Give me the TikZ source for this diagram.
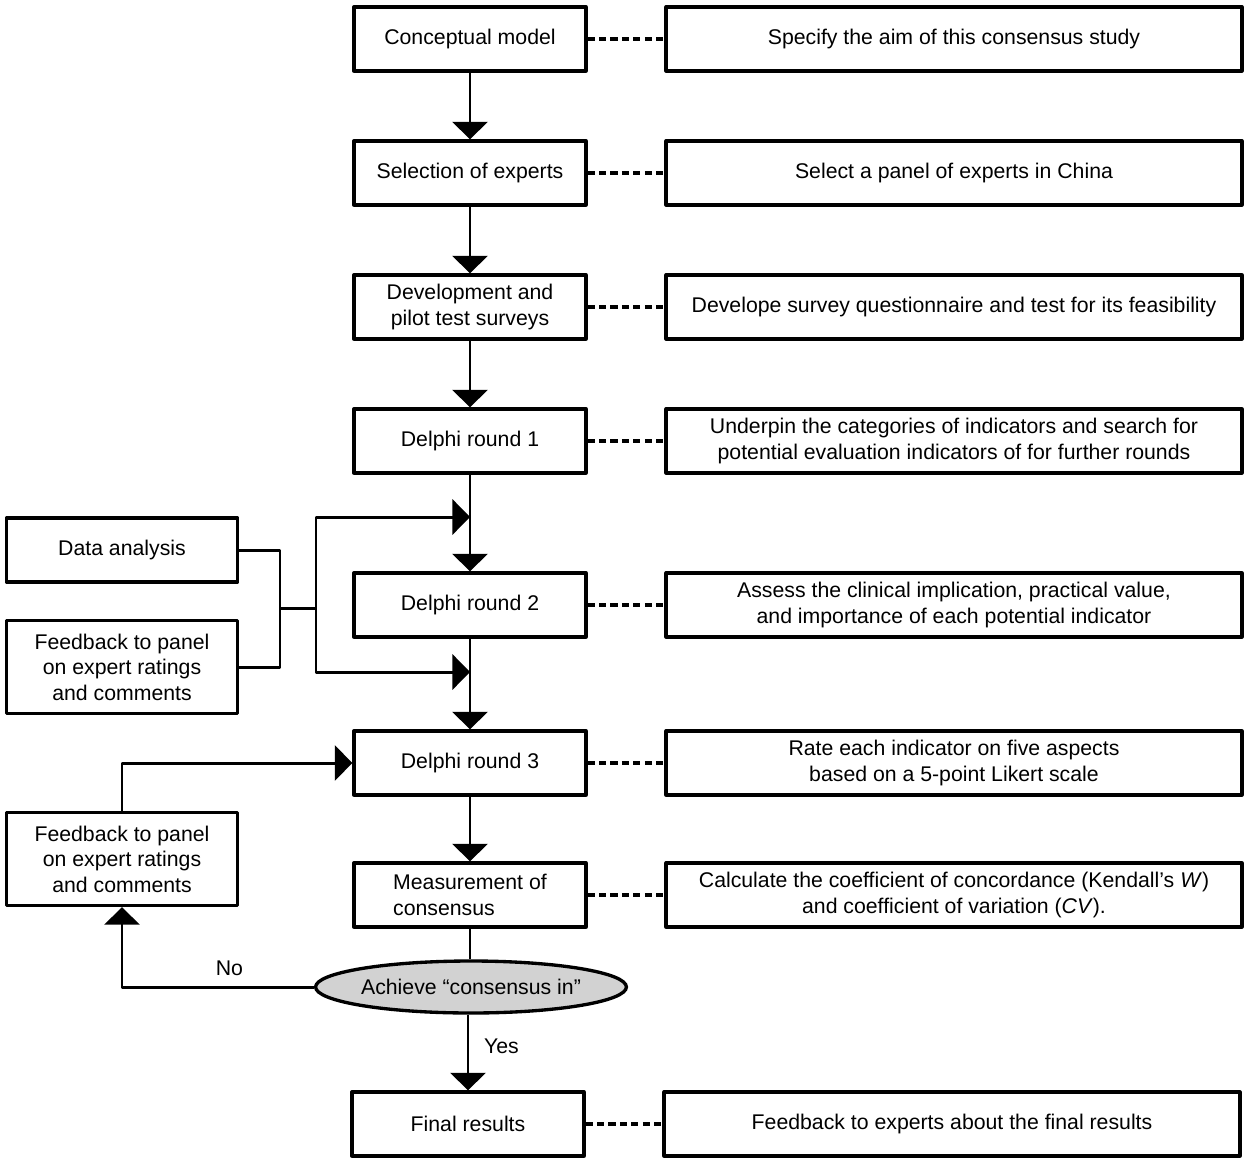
\documentclass[tikz,border=0pt]{standalone}
\usepackage{fontspec}
\setmainfont{Liberation Sans}
\usetikzlibrary{arrows.meta,shapes.geometric}

\begin{document}
\begin{tikzpicture}[
        x = 0.02cm, y = -0.02cm,
        line join=round,
        font = \fontsize{12.1}{14.5}\selectfont,
        >={Triangle[width=20pt,length=10pt]},
        stepbox/.style = {draw, line width=1.9pt, minimum width=4.64cm, minimum height=1.28cm, align=center, inner sep=2pt},
        notebox/.style = {stepbox, minimum width=11.52cm},
        sidebox/.style = {stepbox, minimum width=4.62cm},
        flow/.style = {line width=1.7pt},
        link/.style = {line width=1.8pt, dash pattern=on 4pt off 2.5pt}
    ]

    \useasboundingbox (0,0) rectangle (1248,1163);

    % main steps
    \node[stepbox] (cm) at (470,39) {Conceptual model};
    \node[stepbox] (se) at (470,173) {Selection of experts};
    \node[stepbox] (dp) at (470,307) {Development and\\pilot test surveys};
    \node[stepbox] (dr1) at (470,441) {Delphi round 1};
    \node[stepbox] (dr2) at (470,605) {Delphi round 2};
    \node[stepbox] (dr3) at (470,763) {Delphi round 3};
    \node[stepbox, align=left] (mc) at (470,895) {Measurement of\\consensus};
    \node[ellipse, draw, line width=1.9pt, fill=gray!35, minimum width=6.16cm, minimum height=1.04cm, inner sep=0pt] (ach) at (471,987) {Achieve “consensus in”};
    \node[stepbox] (fr) at (468,1124) {Final results};

    % notes
    \node[notebox] (n1) at (954,39) {Specify the aim of this consensus study};
    \node[notebox] (n2) at (954,173) {Select a panel of experts in China};
    \node[notebox] (n3) at (954,307) {Develope survey questionnaire and test for its feasibility};
    \node[notebox] (n4) at (954,441) {Underpin the categories of indicators and search for\\potential evaluation indicators of for further rounds};
    \node[notebox] (n5) at (954,605) {Assess the clinical implication, practical value,\\and importance of each potential indicator};
    \node[notebox] (n6) at (954,763) {Rate each indicator on five aspects\\based on a 5-point Likert scale};
    \node[notebox] (n7) at (954,895) {Calculate the coefficient of concordance (Kendall’s \textit{W})\\and coefficient of variation (\textit{CV}).};
    \node[notebox] (n8) at (952,1124) {Feedback to experts about the final results};

    % side boxes
    \node[sidebox] (da) at (122,550) {Data analysis};
    \node[sidebox, minimum height=1.86cm] (fb1) at (122,667) {Feedback to panel\\on expert ratings\\and comments};
    \node[sidebox, minimum height=1.86cm] (fb2) at (122,859) {Feedback to panel\\on expert ratings\\and comments};

    \coordinate (m) at (280,608);
    \coordinate (s) at (316,608);
    \coordinate (j1) at (470,517);
    \coordinate (j2) at (470,672);

    \foreach \a/\b in {cm/n1, se/n2, dp/n3, dr1/n4, dr2/n5, dr3/n6, mc/n7, fr/n8}
        \draw[link] (\a.east) -- (\b.west);

    \foreach \a/\b in {cm/se, se/dp, dp/dr1, dr1/dr2, dr2/dr3, dr3/mc}
        \draw[flow, ->] (\a) -- (\b);

    \draw[flow] (da.east) -| (m) |- (fb1.east);
    \draw[flow] (m) -- (s);
    \draw[flow, ->] (s) |- (j1);
    \draw[flow, ->] (s) |- (j2);

    \draw[flow, ->] (fb2.north) |- (dr3.west);
    \draw[flow] (mc) -- (mc |- ach.north);
    \draw[flow, ->] (ach.west) -| node[pos=0.22, above=2pt] {No} (fb2.south);
    \draw[flow, ->] (fr |- ach.south) -- node[pos=0.42, right=5pt] {Yes} (fr);
\end{tikzpicture}
\end{document}
